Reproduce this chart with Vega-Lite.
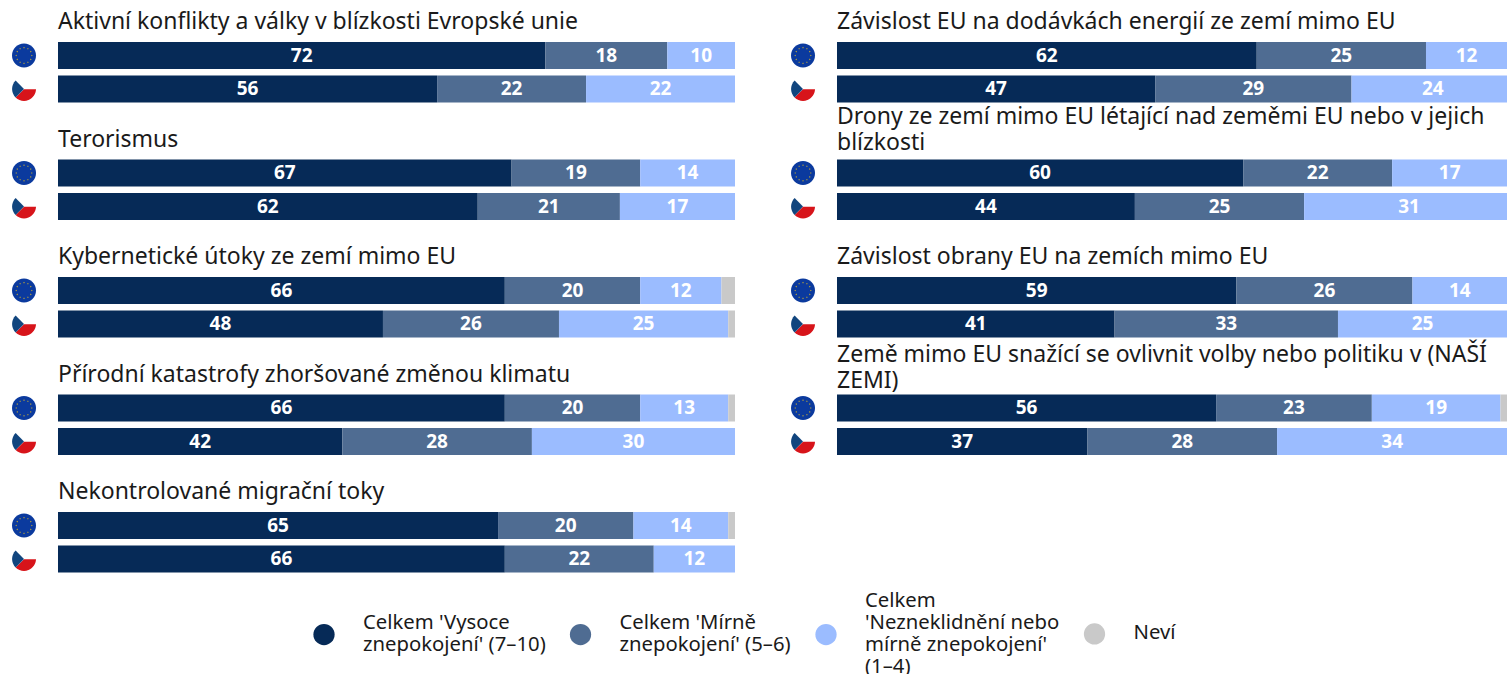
{"$schema":"https://vega.github.io/schema/vega-lite/v6.json","padding":{"left":0,"top":5.25,"right":0,"bottom":0},"background":"white","spacing":44,"config":{"view":{"stroke":null},"font":"Noto Sans"},
"datasets":{"rows":[
{"col":"L","group":1,"series":"EU","cat":"Vysoce","rank":1,"value":72},{"col":"L","group":1,"series":"EU","cat":"Mírně","rank":2,"value":18},{"col":"L","group":1,"series":"EU","cat":"Nezneklidnění","rank":3,"value":10},
{"col":"L","group":1,"series":"CZ","cat":"Vysoce","rank":1,"value":56},{"col":"L","group":1,"series":"CZ","cat":"Mírně","rank":2,"value":22},{"col":"L","group":1,"series":"CZ","cat":"Nezneklidnění","rank":3,"value":22},
{"col":"L","group":2,"series":"EU","cat":"Vysoce","rank":1,"value":67},{"col":"L","group":2,"series":"EU","cat":"Mírně","rank":2,"value":19},{"col":"L","group":2,"series":"EU","cat":"Nezneklidnění","rank":3,"value":14},
{"col":"L","group":2,"series":"CZ","cat":"Vysoce","rank":1,"value":62},{"col":"L","group":2,"series":"CZ","cat":"Mírně","rank":2,"value":21},{"col":"L","group":2,"series":"CZ","cat":"Nezneklidnění","rank":3,"value":17},
{"col":"L","group":3,"series":"EU","cat":"Vysoce","rank":1,"value":66},{"col":"L","group":3,"series":"EU","cat":"Mírně","rank":2,"value":20},{"col":"L","group":3,"series":"EU","cat":"Nezneklidnění","rank":3,"value":12},{"col":"L","group":3,"series":"EU","cat":"Neví","rank":4,"value":2},
{"col":"L","group":3,"series":"CZ","cat":"Vysoce","rank":1,"value":48},{"col":"L","group":3,"series":"CZ","cat":"Mírně","rank":2,"value":26},{"col":"L","group":3,"series":"CZ","cat":"Nezneklidnění","rank":3,"value":25},{"col":"L","group":3,"series":"CZ","cat":"Neví","rank":4,"value":1},
{"col":"L","group":4,"series":"EU","cat":"Vysoce","rank":1,"value":66},{"col":"L","group":4,"series":"EU","cat":"Mírně","rank":2,"value":20},{"col":"L","group":4,"series":"EU","cat":"Nezneklidnění","rank":3,"value":13},{"col":"L","group":4,"series":"EU","cat":"Neví","rank":4,"value":1},
{"col":"L","group":4,"series":"CZ","cat":"Vysoce","rank":1,"value":42},{"col":"L","group":4,"series":"CZ","cat":"Mírně","rank":2,"value":28},{"col":"L","group":4,"series":"CZ","cat":"Nezneklidnění","rank":3,"value":30},
{"col":"L","group":5,"series":"EU","cat":"Vysoce","rank":1,"value":65},{"col":"L","group":5,"series":"EU","cat":"Mírně","rank":2,"value":20},{"col":"L","group":5,"series":"EU","cat":"Nezneklidnění","rank":3,"value":14},{"col":"L","group":5,"series":"EU","cat":"Neví","rank":4,"value":1},
{"col":"L","group":5,"series":"CZ","cat":"Vysoce","rank":1,"value":66},{"col":"L","group":5,"series":"CZ","cat":"Mírně","rank":2,"value":22},{"col":"L","group":5,"series":"CZ","cat":"Nezneklidnění","rank":3,"value":12},
{"col":"R","group":1,"series":"EU","cat":"Vysoce","rank":1,"value":62},{"col":"R","group":1,"series":"EU","cat":"Mírně","rank":2,"value":25},{"col":"R","group":1,"series":"EU","cat":"Nezneklidnění","rank":3,"value":12},
{"col":"R","group":1,"series":"CZ","cat":"Vysoce","rank":1,"value":47},{"col":"R","group":1,"series":"CZ","cat":"Mírně","rank":2,"value":29},{"col":"R","group":1,"series":"CZ","cat":"Nezneklidnění","rank":3,"value":24},
{"col":"R","group":2,"series":"EU","cat":"Vysoce","rank":1,"value":60},{"col":"R","group":2,"series":"EU","cat":"Mírně","rank":2,"value":22},{"col":"R","group":2,"series":"EU","cat":"Nezneklidnění","rank":3,"value":17},
{"col":"R","group":2,"series":"CZ","cat":"Vysoce","rank":1,"value":44},{"col":"R","group":2,"series":"CZ","cat":"Mírně","rank":2,"value":25},{"col":"R","group":2,"series":"CZ","cat":"Nezneklidnění","rank":3,"value":31},
{"col":"R","group":3,"series":"EU","cat":"Vysoce","rank":1,"value":59},{"col":"R","group":3,"series":"EU","cat":"Mírně","rank":2,"value":26},{"col":"R","group":3,"series":"EU","cat":"Nezneklidnění","rank":3,"value":14},
{"col":"R","group":3,"series":"CZ","cat":"Vysoce","rank":1,"value":41},{"col":"R","group":3,"series":"CZ","cat":"Mírně","rank":2,"value":33},{"col":"R","group":3,"series":"CZ","cat":"Nezneklidnění","rank":3,"value":25},
{"col":"R","group":4,"series":"EU","cat":"Vysoce","rank":1,"value":56},{"col":"R","group":4,"series":"EU","cat":"Mírně","rank":2,"value":23},{"col":"R","group":4,"series":"EU","cat":"Nezneklidnění","rank":3,"value":19},{"col":"R","group":4,"series":"EU","cat":"Neví","rank":4,"value":1},
{"col":"R","group":4,"series":"CZ","cat":"Vysoce","rank":1,"value":37},{"col":"R","group":4,"series":"CZ","cat":"Mírně","rank":2,"value":28},{"col":"R","group":4,"series":"CZ","cat":"Nezneklidnění","rank":3,"value":34}
],"titles":[
{"col":"L","group":1,"series":"title","title":"Aktivní konflikty a války v blízkosti Evropské unie"},
{"col":"L","group":2,"series":"title","title":"Terorismus"},
{"col":"L","group":3,"series":"title","title":"Kybernetické útoky ze zemí mimo EU"},
{"col":"L","group":4,"series":"title","title":"Přírodní katastrofy zhoršované změnou klimatu"},
{"col":"L","group":5,"series":"title","title":"Nekontrolované migrační toky"},
{"col":"R","group":1,"series":"title","title":"Závislost EU na dodávkách energií ze zemí mimo EU"},
{"col":"R","group":2,"series":"title","title":"Drony ze zemí mimo EU létající nad zeměmi EU nebo v jejich\nblízkosti"},
{"col":"R","group":3,"series":"title","title":"Závislost obrany EU na zemích mimo EU"},
{"col":"R","group":4,"series":"title","title":"Země mimo EU snažící se ovlivnit volby nebo politiku v (NAŠÍ\nZEMI)"}
]},
"hconcat":[
{"width":735,"height":587.5,
"layer":[
{"data":{"name":"rows"},"transform":[{"filter":"datum.col==='L'"}],"mark":{"type":"bar","size":27},"encoding":{"x":{"field":"value","type":"quantitative","stack":"zero","axis":null,"scale":{"domain":[-8.567,100],"nice":false,"zero":false}},"y":{"field":"group","type":"ordinal","axis":null,"scale":{"domain":[1,2,3,4,5],"paddingInner":0,"paddingOuter":0}},"yOffset":{"field":"series","scale":{"domain":["title","EU","CZ"],"paddingInner":0,"paddingOuter":0.2537,"align":0}},"color":{"field":"cat","type":"nominal","scale":{"domain":["Vysoce","Mírně","Nezneklidnění","Neví"],"range":["#062a57","#4f6c92","#9bbcff","#c9c9c9"]},"legend":{"orient":"none","legendX":313,"legendY":584,"direction":"horizontal","columns":4,"gridAlign":"each","columnPadding":23.5,"title":null,"symbolType":"circle","symbolSize":452,"symbolStrokeWidth":0,"symbolOpacity":1,"labelFontSize":20.3,"labelColor":"#1a1a1a","labelOffset":28,"labelLimit":300,"labelExpr":"{'Vysoce':['Celkem \\'Vysoce','znepokojení\\' (7–10)'],'Mírně':['Celkem \\'Mírně','znepokojení\\' (5–6)'],'Nezneklidnění':['Celkem','\\'Nezneklidnění nebo','mírně znepokojení\\'','(1–4)'],'Neví':['Neví']}[datum.label]","encode":{"labels":{"update":{"lineHeight":{"value":22}}},"symbols":{"update":{"y":{"signal":"12+(datum.value==='Nezneklidnění'?33:datum.value==='Neví'?0:11)"}}}}}},"order":{"field":"rank","type":"quantitative"}}},
{"data":{"name":"rows"},"transform":[{"filter":"datum.col==='L'&&datum.cat!=='Neví'"}],"mark":{"type":"text","color":"white","fontWeight":"bold","fontSize":19},"encoding":{"x":{"field":"value","type":"quantitative","stack":"zero","bandPosition":0.5},"y":{"field":"group","type":"ordinal"},"yOffset":{"field":"series"},"text":{"field":"value","type":"quantitative"},"order":{"field":"rank","type":"quantitative"},"detail":{"field":"cat"}}},
{"data":{"name":"titles"},"transform":[{"filter":"datum.col==='L'"}],"mark":{"type":"text","align":"left","baseline":"bottom","dy":12,"fontSize":23,"lineBreak":"\n","lineHeight":26,"color":"#1a1a1a"},"encoding":{"x":{"datum":0},"y":{"field":"group","type":"ordinal"},"yOffset":{"field":"series"},"text":{"field":"title"}}},
{"data":{"name":"rows"},"transform":[{"filter":"datum.col==='L'&&datum.rank===1&&datum.series==='EU'"}],"mark":{"type":"point","filled":true,"size":576,"opacity":1,"shape":"M-1,0A1,1 0 1,1 1,0A1,1 0 1,1 -1,0Z","color":"#0b3a9e"},"encoding":{"x":{"datum":-5.02},"y":{"field":"group","type":"ordinal"},"yOffset":{"field":"series"}}},
{"data":{"name":"rows"},"transform":[{"filter":"datum.col==='L'&&datum.rank===1&&datum.series==='EU'"}],"mark":{"type":"point","filled":true,"size":576,"opacity":1,"color":"#b9a33a","shape":"M0,-.72L.07,-.65L0,-.58L-.07,-.65ZM.325,-.633L.395,-.563L.325,-.493L.255,-.563ZM.563,-.395L.633,-.325L.563,-.255L.493,-.325ZM.65,-.07L.72,0L.65,.07L.58,0ZM.563,.255L.633,.325L.563,.395L.493,.325ZM.325,.493L.395,.563L.325,.633L.255,.563ZM0,.58L.07,.65L0,.72L-.07,.65ZM-.325,.493L-.255,.563L-.325,.633L-.395,.563ZM-.563,.255L-.493,.325L-.563,.395L-.633,.325ZM-.65,-.07L-.58,0L-.65,.07L-.72,0ZM-.563,-.395L-.493,-.325L-.563,-.255L-.633,-.325ZM-.325,-.633L-.255,-.563L-.325,-.493L-.395,-.563Z"},"encoding":{"x":{"datum":-5.02},"y":{"field":"group","type":"ordinal"},"yOffset":{"field":"series"}}},
{"data":{"name":"rows"},"transform":[{"filter":"datum.col==='L'&&datum.rank===1&&datum.series==='CZ'"}],"mark":{"type":"point","filled":true,"size":576,"opacity":1,"color":"#d7141a","shape":"M0,0.03L1,0.03A1,1 0 0,1 -.7,.71Z"},"encoding":{"x":{"datum":-5.02},"y":{"field":"group","type":"ordinal"},"yOffset":{"field":"series"}}},
{"data":{"name":"rows"},"transform":[{"filter":"datum.col==='L'&&datum.rank===1&&datum.series==='CZ'"}],"mark":{"type":"point","filled":true,"size":576,"opacity":1,"color":"#11457e","shape":"M0,0L-.7,-.71A1,1 0 0,0 -.7,.71Z"},"encoding":{"x":{"datum":-5.02},"y":{"field":"group","type":"ordinal"},"yOffset":{"field":"series"}}}
]},
{"width":728,"height":587.5,
"layer":[
{"data":{"name":"rows"},"transform":[{"filter":"datum.col==='R'"}],"mark":{"type":"bar","size":27,"clip":true},"encoding":{"x":{"field":"value","type":"quantitative","stack":"zero","axis":null,"scale":{"domain":[-8.567,98.966],"nice":false,"zero":false}},"y":{"field":"group","type":"ordinal","axis":null,"scale":{"domain":[1,2,3,4,5],"paddingInner":0,"paddingOuter":0}},"yOffset":{"field":"series","scale":{"domain":["title","EU","CZ"],"paddingInner":0,"paddingOuter":0.2537,"align":0}},"color":{"field":"cat","type":"nominal"},"order":{"field":"rank","type":"quantitative"}}},
{"data":{"name":"rows"},"transform":[{"filter":"datum.col==='R'&&datum.cat!=='Neví'"}],"mark":{"type":"text","color":"white","fontWeight":"bold","fontSize":19},"encoding":{"x":{"field":"value","type":"quantitative","stack":"zero","bandPosition":0.5},"y":{"field":"group","type":"ordinal"},"yOffset":{"field":"series"},"text":{"field":"value","type":"quantitative"},"order":{"field":"rank","type":"quantitative"},"detail":{"field":"cat"}}},
{"data":{"name":"titles"},"transform":[{"filter":"datum.col==='R'&&(datum.group===1||datum.group===3)"}],"mark":{"type":"text","align":"left","baseline":"bottom","dy":12,"fontSize":23,"lineBreak":"\n","lineHeight":26,"color":"#1a1a1a"},"encoding":{"x":{"datum":0},"y":{"field":"group","type":"ordinal"},"yOffset":{"field":"series"},"text":{"field":"title"}}},
{"data":{"name":"titles"},"transform":[{"filter":"datum.col==='R'&&datum.group===2"}],"mark":{"type":"text","align":"left","baseline":"bottom","dy":-11,"fontSize":23,"lineBreak":"\n","lineHeight":26,"color":"#1a1a1a"},"encoding":{"x":{"datum":0},"y":{"field":"group","type":"ordinal"},"yOffset":{"field":"series"},"text":{"field":"title"}}},
{"data":{"name":"titles"},"transform":[{"filter":"datum.col==='R'&&datum.group===4"}],"mark":{"type":"text","align":"left","baseline":"bottom","dy":-8,"fontSize":23,"lineBreak":"\n","lineHeight":26,"color":"#1a1a1a"},"encoding":{"x":{"datum":0},"y":{"field":"group","type":"ordinal"},"yOffset":{"field":"series"},"text":{"field":"title"}}},
{"data":{"name":"rows"},"transform":[{"filter":"datum.col==='R'&&datum.rank===1&&datum.series==='EU'"}],"mark":{"type":"point","filled":true,"size":576,"opacity":1,"shape":"M-1,0A1,1 0 1,1 1,0A1,1 0 1,1 -1,0Z","color":"#0b3a9e"},"encoding":{"x":{"datum":-5.02},"y":{"field":"group","type":"ordinal"},"yOffset":{"field":"series"}}},
{"data":{"name":"rows"},"transform":[{"filter":"datum.col==='R'&&datum.rank===1&&datum.series==='EU'"}],"mark":{"type":"point","filled":true,"size":576,"opacity":1,"color":"#b9a33a","shape":"M0,-.72L.07,-.65L0,-.58L-.07,-.65ZM.325,-.633L.395,-.563L.325,-.493L.255,-.563ZM.563,-.395L.633,-.325L.563,-.255L.493,-.325ZM.65,-.07L.72,0L.65,.07L.58,0ZM.563,.255L.633,.325L.563,.395L.493,.325ZM.325,.493L.395,.563L.325,.633L.255,.563ZM0,.58L.07,.65L0,.72L-.07,.65ZM-.325,.493L-.255,.563L-.325,.633L-.395,.563ZM-.563,.255L-.493,.325L-.563,.395L-.633,.325ZM-.65,-.07L-.58,0L-.65,.07L-.72,0ZM-.563,-.395L-.493,-.325L-.563,-.255L-.633,-.325ZM-.325,-.633L-.255,-.563L-.325,-.493L-.395,-.563Z"},"encoding":{"x":{"datum":-5.02},"y":{"field":"group","type":"ordinal"},"yOffset":{"field":"series"}}},
{"data":{"name":"rows"},"transform":[{"filter":"datum.col==='R'&&datum.rank===1&&datum.series==='CZ'"}],"mark":{"type":"point","filled":true,"size":576,"opacity":1,"color":"#d7141a","shape":"M0,0.03L1,0.03A1,1 0 0,1 -.7,.71Z"},"encoding":{"x":{"datum":-5.02},"y":{"field":"group","type":"ordinal"},"yOffset":{"field":"series"}}},
{"data":{"name":"rows"},"transform":[{"filter":"datum.col==='R'&&datum.rank===1&&datum.series==='CZ'"}],"mark":{"type":"point","filled":true,"size":576,"opacity":1,"color":"#11457e","shape":"M0,0L-.7,-.71A1,1 0 0,0 -.7,.71Z"},"encoding":{"x":{"datum":-5.02},"y":{"field":"group","type":"ordinal"},"yOffset":{"field":"series"}}}
]}
]}
